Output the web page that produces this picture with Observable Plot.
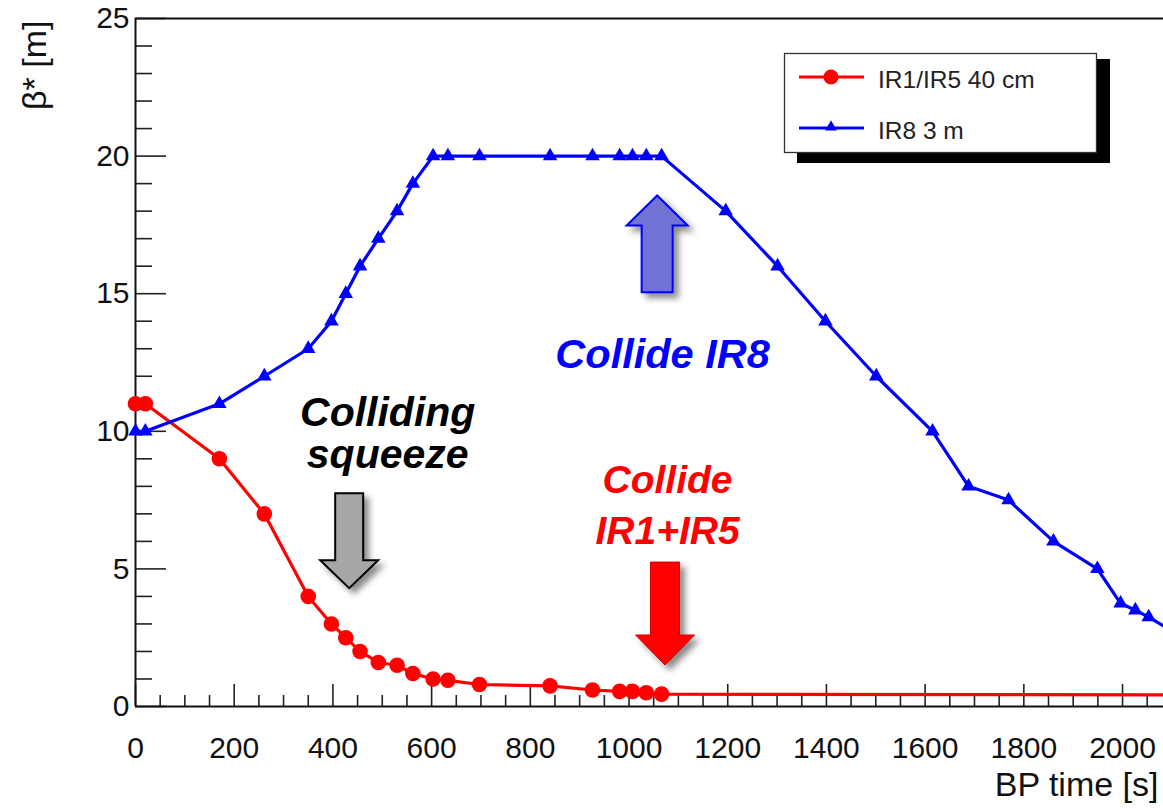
<!DOCTYPE html>
<html><head><meta charset="utf-8">
<script src="https://cdn.jsdelivr.net/npm/d3@7"></script>
<script src="https://cdn.jsdelivr.net/npm/@observablehq/plot@0.6"></script>
<style>
html,body{margin:0;padding:0;background:#fff;overflow:hidden;}
#chart svg{display:block;}
</style></head><body><div id="chart"></div>
<script>
// ---------- data ----------
const seriesNames = ["IR1/IR5 40 cm", "IR8 3 m"];
const redTime = [0, 20, 170, 261, 350, 397, 426, 455, 492, 530, 562, 603, 633, 697, 840, 926, 981, 1007, 1035, 1066];
const redBeta = [11, 11, 9, 7, 4, 3, 2.5, 2, 1.6, 1.5, 1.2, 1.0, 0.95, 0.8, 0.75, 0.6, 0.55, 0.55, 0.5, 0.45];
const redTailTime = [2100];
const redTailBeta = [0.42];
const blueTime = [0, 20, 170, 261, 350, 397, 426, 455, 492, 530, 562, 603, 633, 697, 840, 926, 981, 1007, 1035, 1066, 1196, 1301, 1398, 1501, 1615, 1688, 1769, 1860, 1949, 1996, 2026, 2053, 2100];
const blueBeta = [10, 10, 11, 12, 13, 14, 15, 16, 17, 18, 19, 20, 20, 20, 20, 20, 20, 20, 20, 20, 18, 16, 14, 12, 10, 8, 7.5, 6, 5, 3.75, 3.5, 3.25, 2.75];

const xTicks = [0, 200, 400, 600, 800, 1000, 1200, 1400, 1600, 1800, 2000];
const xTickLabels = ["0", "200", "400", "600", "800", "1000", "1200", "1400", "1600", "1800", "2000"];
const yTicks = [0, 5, 10, 15, 20, 25];
const yTickLabels = ["0", "5", "10", "15", "20", "25"];
const xMinorTicks = d3.range(0, 2100, 50).filter(v => v % 200 !== 0);
const yMinorTicks = d3.range(0, 25, 1).filter(v => v % 5 !== 0);
const xTitle = "BP time [s]";
const yTitle = "β* [m]";

// annotations (anchor in data units)
const noteText = ["Colliding\nsqueeze", "Collide IR8", "Collide\nIR1+IR5"];
const noteTime = [511, 1068, 1078];
const noteBeta = [11.29, 13.47, 9.11];

// block arrows (centre time, tail beta, tip beta)
const arrowTime = [434, 1058, 1074];
const arrowTail = [7.73, 15.03, 5.23];
const arrowTip = [4.28, 18.55, 1.49];

// ---------- layout / style ----------
const FONT = "'Liberation Sans', Arial, Helvetica, sans-serif";
const W = 1163, H = 809, ML = 135, MT = 18, MB = 103, MR = 0;
const PW = W - ML - MR, PH = H - MT - MB;
const RED = "#ff0000", BLUE = "#0000ff";
const noteStyle = [
  {fill: "#000", fontSize: 41, lineHeight: 1.03},
  {fill: BLUE, fontSize: 41.5, lineHeight: 1.1},
  {fill: RED, fontSize: 39, lineHeight: 1.33}
];
const arrowStyle = [
  {fill: "#a6a6a6", stroke: "#000", sw: 2, shaft: 14, head: 29, headLen: 28},
  {fill: "#7272d4", stroke: BLUE, sw: 2, shaft: 15.5, head: 30.5, headLen: 30},
  {fill: "#ff0000", stroke: "#d40000", sw: 1, shaft: 14.5, head: 29.5, headLen: 30}
];

const redPts = redTime.map((t, i) => ({t, b: redBeta[i]}));
const redLine = redPts.concat(redTailTime.map((t, i) => ({t, b: redTailBeta[i]})));
const bluePts = blueTime.map((t, i) => ({t, b: blueBeta[i]}));

function overlay(index, scales) {
  const x = (scales && typeof scales.x === "function") ? scales.x : d3.scaleLinear([0, 2083], [ML, W - MR]);
  const y = (scales && typeof scales.y === "function") ? scales.y : d3.scaleLinear([0, 25], [H - MB, MT]);
  const g = d3.create("svg:g");
  const defs = g.append("defs");
  const f = defs.append("filter").attr("id", "arrowShadow").attr("x", "-50%").attr("y", "-50%").attr("width", "200%").attr("height", "200%");
  f.append("feDropShadow").attr("dx", 5).attr("dy", 5).attr("stdDeviation", 3).attr("flood-color", "#000").attr("flood-opacity", 0.45);

  arrowTime.forEach((t, i) => {
    const s = arrowStyle[i];
    const cx = x(t), yt = y(arrowTail[i]), yp = y(arrowTip[i]);
    const dir = Math.sign(yp - yt);
    const yb = yp - dir * s.headLen;
    const pts = [[cx - s.shaft, yt], [cx + s.shaft, yt], [cx + s.shaft, yb], [cx + s.head, yb], [cx, yp], [cx - s.head, yb], [cx - s.shaft, yb]];
    g.append("path")
      .attr("d", "M" + pts.map(p => p.join(",")).join("L") + "Z")
      .attr("fill", s.fill).attr("stroke", s.stroke).attr("stroke-width", s.sw)
      .attr("stroke-linejoin", "miter")
      .attr("filter", "url(#arrowShadow)");
  });

  // legend
  const lg = g.append("g");
  lg.append("rect").attr("x", 797).attr("y", 59).attr("width", 313).attr("height", 104).attr("fill", "#000");
  lg.append("rect").attr("x", 784.5).attr("y", 53.5).attr("width", 312).attr("height", 99)
    .attr("fill", "#fff").attr("stroke", "#333").attr("stroke-width", 1.3);
  const rows = [
    {y: 77, color: RED, sym: "circle", name: seriesNames[0]},
    {y: 128, color: BLUE, sym: "triangle", name: seriesNames[1]}
  ];
  rows.forEach(r => {
    lg.append("line").attr("x1", 799).attr("x2", 864).attr("y1", r.y).attr("y2", r.y)
      .attr("stroke", r.color).attr("stroke-width", 3);
    if (r.sym === "circle") {
      lg.append("circle").attr("cx", 831).attr("cy", r.y).attr("r", 7.5).attr("fill", r.color);
    } else {
      lg.append("path").attr("transform", `translate(831,${r.y - 1})`)
        .attr("d", d3.symbol(d3.symbolTriangle, 60)()).attr("fill", r.color);
    }
    lg.append("text").attr("x", 878).attr("y", r.y + 3).attr("dy", "0.32em")
      .attr("text-anchor", "start")
      .attr("font-family", FONT).attr("font-size", 24.5).attr("fill", "#222")
      .text(r.name);
  });
  return g.node();
}

const chart = Plot.plot({
  width: W, height: H,
  marginLeft: ML, marginRight: MR, marginTop: MT, marginBottom: MB,
  x: {type: "linear", domain: [0, 2083]},
  y: {type: "linear", domain: [0, 25]},
  style: {fontFamily: FONT, background: "#fff", color: "#000"},
  marks: [
    // inner ticks
    Plot.tickX(xMinorTicks, {x: d => d, stroke: "#222", strokeWidth: 1.6, insetTop: PH - 11}),
    Plot.tickX(xTicks, {x: d => d, stroke: "#222", strokeWidth: 1.6, insetTop: PH - 22}),
    Plot.tickY(yMinorTicks, {y: d => d, stroke: "#222", strokeWidth: 1.6, insetRight: PW - 17}),
    Plot.tickY(yTicks, {y: d => d, stroke: "#222", strokeWidth: 1.6, insetRight: PW - 31}),
    // frame (left, bottom, top)
    Plot.ruleX([0], {stroke: "#111", strokeWidth: 2}),
    Plot.ruleY([0, 25], {stroke: "#111", strokeWidth: 2}),
    // tick labels
    Plot.axisX({ticks: xTicks, tickSize: 0, tickPadding: 30, fontSize: 30, label: null,
      tickFormat: d => xTickLabels[xTicks.indexOf(d)], fill: "#111"}),
    Plot.axisY({ticks: yTicks, tickSize: 0, tickPadding: 6, fontSize: 30, label: null,
      tickFormat: d => yTickLabels[yTicks.indexOf(d)], fill: "#111"}),
    // axis titles
    Plot.text([yTitle], {frameAnchor: "top-left", text: d => d, rotate: -90, textAnchor: "end",
      lineAnchor: "middle", dx: -100, dy: 2, fontSize: 34, fill: "#111"}),
    Plot.text([xTitle], {frameAnchor: "bottom-right", text: d => d, textAnchor: "end",
      lineAnchor: "middle", dx: -5, dy: 79, fontSize: 34, fill: "#111"}),
    // series
    Plot.line(redLine, {x: "t", y: "b", stroke: RED, strokeWidth: 3.2}),
    Plot.dot(redPts, {x: "t", y: "b", r: 7.8, fill: RED, stroke: "none"}),
    Plot.line(bluePts, {x: "t", y: "b", stroke: BLUE, strokeWidth: 3.2}),
    Plot.dot(bluePts, {x: "t", y: "b", symbol: "triangle", r: 5.4, fill: BLUE, stroke: "none"}),
    // overlay: arrows + legend
    overlay,
    // annotation texts
    ...noteText.map((txt, i) => Plot.text([i], {
      x: j => noteTime[j], y: j => noteBeta[j], text: j => noteText[j],
      textAnchor: "middle", lineAnchor: "top",
      fontSize: noteStyle[i].fontSize, lineHeight: noteStyle[i].lineHeight,
      fill: noteStyle[i].fill, fontWeight: "bold", fontStyle: "italic"
    }))
  ]
});
document.getElementById("chart").appendChild(chart);
</script>
</body></html>
